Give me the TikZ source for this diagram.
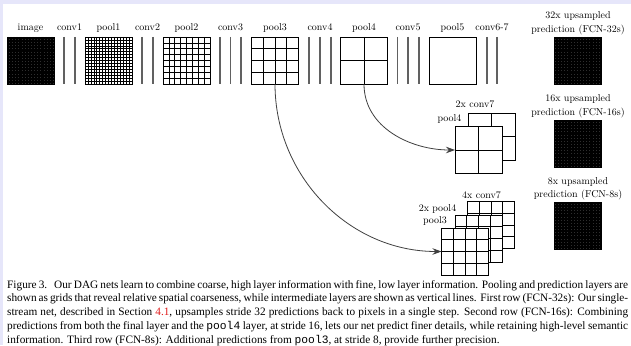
\documentclass[tikz,border=0pt]{standalone}
\usepackage{fontspec}
\newfontfamily\capfont{Liberation Serif}
\newfontfamily\capmono{Liberation Mono}
\usetikzlibrary{calc,arrows.meta}
\definecolor{lav}{RGB}{230,230,250}
\definecolor{refred}{RGB}{225,30,30}
\begin{document}
\begin{tikzpicture}[x=1pt,y=-1pt,
  box/.style={draw=black,line width=0.8pt,minimum size=47pt,inner sep=0pt,outer sep=0pt,fill=white},
  gridded/.style 2 args={path picture={
     \pgfmathtruncatemacro\gm{#1-1}
     \foreach \k in {1,...,\gm}{
       \draw[line width=#2,black] ($(path picture bounding box.north west)!\k/#1!(path picture bounding box.north east)$) -- ($(path picture bounding box.south west)!\k/#1!(path picture bounding box.south east)$);
       \draw[line width=#2,black] ($(path picture bounding box.north west)!\k/#1!(path picture bounding box.south west)$) -- ($(path picture bounding box.north east)!\k/#1!(path picture bounding box.south east)$);
     }}},
  dense/.style={box,fill=black!82,gridded={32}{0.45pt}},
  convline/.style={draw=black!62,line width=1.2pt},
  lab/.style={anchor=base,inner sep=0pt,font=\fontsize{10}{12}\selectfont},
  arr/.style={draw=black!75,line width=0.8pt,-{Stealth[length=9pt,width=6.5pt]}},
  capline/.style={anchor=base west,inner sep=0pt,font=\capfont\fontsize{11.3}{13.75}\selectfont}
]
\useasboundingbox (0,0) rectangle (631,345);
\fill[lav] (0,0) rectangle (631,345);
\fill[white] (3,4.5) rectangle (631,345);

% first row
\node[dense] (image) at (30.5,60.5) {};
\node[box,gridded={16}{0.6pt}] (pool1) at (108.5,60.5) {};
\node[box,gridded={8}{0.7pt}] (pool2) at (186.5,60.5) {};
\node[box,gridded={4}{0.8pt}] (pool3) at (275,60.5) {};
\node[box,gridded={2}{0.8pt}] (pool4) at (364,60.5) {};
\node[box] (pool5) at (452.5,60.5) {};
\node[dense] (pred32) at (578,60.5) {};

\foreach \xx in {64,75,142,153,220,230.5,241,309,320,331,397.5,408,419,487,497}
  \draw[convline] (\xx,37) -- (\xx,84);

\node[lab] (limage) at (30.5,31) {image};
\node[lab] (lconv1) at (69.5,31) {conv1};
\node[lab] (lpool1) at (108.5,31) {pool1};
\node[lab] (lconv2) at (147.5,31) {conv2};
\node[lab] (lpool2) at (186.5,31) {pool2};
\node[lab] (lconv3) at (230.5,31) {conv3};
\node[lab] (lpool3) at (275,31) {pool3};
\node[lab] (lconv4) at (320,31) {conv4};
\node[lab] (lpool4) at (364,31) {pool4};
\node[lab] (lconv5) at (408,31) {conv5};
\node[lab] (lpool5) at (452.5,31) {pool5};
\node[lab] (lconv67) at (492,31) {conv6-7};

\node[lab] (p32a) at (578,19) {32x upsampled};
\node[lab] (p32b) at (578,32.5) {prediction (FCN-32s)};

% second row
\node[box,gridded={2}{0.8pt}] (s2back) at (491.5,136.5) {};
\node[box,gridded={2}{0.8pt}] (s2front) at (478.5,150) {};
\node[lab] (l2conv7) at (475,107) {2x conv7};
\node[lab] (l2pool4) at (449.5,121) {pool4};
\node[dense] (pred16) at (578,143.5) {};
\node[lab] (p16a) at (578,101) {16x upsampled};
\node[lab] (p16b) at (578,115) {prediction (FCN-16s)};

% third row
\node[box,gridded={4}{0.8pt}] (s3back) at (491,225) {};
\node[box,gridded={4}{0.8pt}] (s3mid) at (478.5,238.5) {};
\node[box,gridded={4}{0.8pt}] (s3front) at (465,251.5) {};
\node[lab] (l3conv7) at (481.5,198) {4x conv7};
\node[lab] (l3pool4) at (437.5,211) {2x pool4};
\node[lab] (l3pool3) at (435,223) {pool3};
\node[dense] (pred8) at (578,225.5) {};
\node[lab] (p8a) at (578,184) {8x upsampled};
\node[lab] (p8b) at (578,197.5) {prediction (FCN-8s)};

% skip connections
\draw[arr] (pool4.south) to[out=-90,in=180] (s2front.west);
\draw[arr] (pool3.south) to[out=-90,in=180] (s3front.west);

% caption
\node[capline] (cap1) at (7,288) {\makebox[621pt][s]{Figure 3.\hspace{0.3em} Our DAG nets learn to combine coarse, high layer information with fine, low layer information. Pooling and prediction layers are}};
\node[capline] (cap2) at (7,301.75) {\makebox[621pt][s]{shown as grids that reveal relative spatial coarseness, while intermediate layers are shown as vertical lines. First row (FCN-32s): Our single-}};
\node[capline] (cap3) at (7,315.5) {\makebox[621pt][s]{stream net, described in Section \textcolor{refred}{4.1}, upsamples stride 32 predictions back to pixels in a single step. Second row (FCN-16s): Combining}};
\node[capline] (cap4) at (7,329.25) {\makebox[621pt][s]{predictions from both the final layer and the {\capmono pool4} layer, at stride 16, lets our net predict finer details, while retaining high-level semantic}};
\node[capline] (cap5) at (7,343) {information. Third row (FCN-8s): Additional predictions from {\capmono pool3}, at stride 8, provide further precision.};
\end{tikzpicture}
\end{document}
